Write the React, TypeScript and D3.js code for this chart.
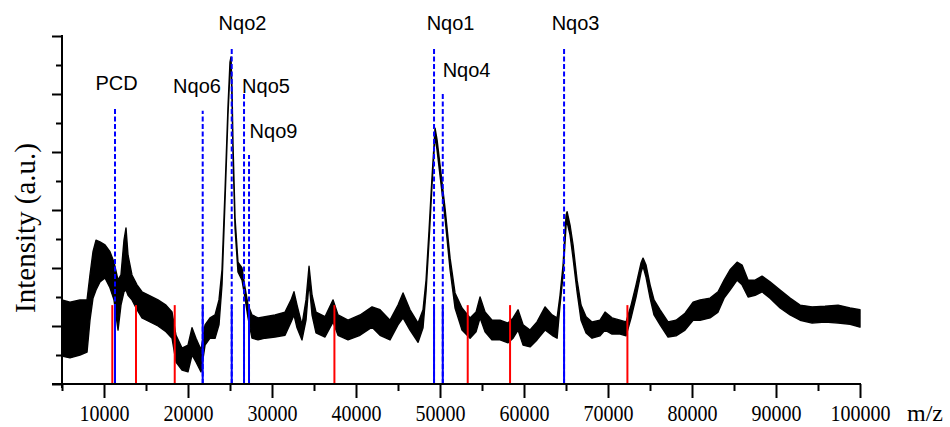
import React, { useEffect, useRef } from 'react'
import * as d3 from 'd3'

// spectrum: m/z with upper / lower edge of the noisy trace
const massAxis = [
  5000, 5950, 7140, 7980, 8330, 8690, 9050, 9520, 10120, 10710,
  11190, 11670, 12020, 12380, 12620, 12860, 13330, 13930, 14520, 15480,
  16430, 17380, 18100, 18570, 19290, 20000, 20480, 20950, 21550, 22030,
  22620, 23220, 23690, 24050, 24410, 24760, 25000, 25120, 25240, 25360,
  25600, 25950, 26430, 26790, 27150, 27620, 28340, 29170, 30360, 31550,
  32270, 32620, 32980, 33570, 34050, 34410, 34770, 35240, 36310, 37270,
  37860, 39050, 40480, 41910, 42860, 44050, 45000, 45600, 46430, 47390,
  47980, 48340, 48700, 49050, 49290, 49410, 49650, 50000, 50600, 51200,
  51790, 52620, 53580, 54290, 54770, 55360, 56200, 57150, 58100, 58700,
  59290, 59890, 60720, 61550, 62510, 63340, 63940, 64290, 64650, 65010,
  65130, 65480, 65840, 66320, 66790, 67390, 68100, 69050, 69650, 70480,
  71440, 72150, 72750, 73340, 73940, 74170, 74530, 75010, 75480, 76200,
  77150, 78100, 79170, 80130, 80960, 82150, 83100, 83820, 84530, 85370,
  85960, 86680, 87510, 88340, 89290, 90490, 91680, 92870, 94300, 95840,
  97390, 98820, 100000,
]

const upperIntensity = [
  1.45, 1.41, 1.45, 1.45, 1.88, 2.28, 2.48, 2.45, 2.4, 2.28,
  2.1, 1.79, 1.88, 2.48, 2.69, 2.22, 1.88, 1.71, 1.59, 1.52,
  1.45, 1.36, 1.24, 0.84, 0.62, 0.67, 0.97, 0.79, 0.59, 1.02,
  1.14, 1.19, 1.45, 1.97, 3.34, 4.78, 5.55, 5.64, 5.07, 4.12,
  2.86, 2.1, 2.0, 1.66, 1.36, 1.19, 1.14, 1.16, 1.19, 1.24,
  1.45, 1.59, 1.36, 1.02, 1.45, 2.03, 1.53, 1.24, 1.16, 1.45,
  1.19, 1.1, 1.19, 1.33, 1.28, 1.1, 1.36, 1.57, 1.28, 1.05,
  1.28, 1.79, 2.66, 3.57, 4.12, 4.41, 4.21, 3.78, 3.03, 2.17,
  1.57, 1.31, 1.14, 1.24, 1.5, 1.24, 1.1, 1.1, 1.05, 1.14,
  1.28, 1.02, 0.93, 1.07, 1.33, 1.19, 1.14, 1.53, 2.05, 2.91,
  2.97, 2.74, 2.4, 1.79, 1.36, 1.16, 1.07, 1.1, 1.24, 1.14,
  1.1, 1.07, 1.36, 1.71, 2.09, 2.17, 2.05, 1.71, 1.45, 1.28,
  1.07, 1.1, 1.22, 1.41, 1.45, 1.48, 1.59, 1.79, 1.97, 2.1,
  2.05, 1.79, 1.79, 1.86, 1.76, 1.62, 1.48, 1.36, 1.33, 1.34,
  1.36, 1.31, 1.28,
]

const lowerIntensity = [
  0.48, 0.45, 0.5, 0.55, 1.1, 1.48, 1.62, 1.76, 1.83, 1.66,
  1.45, 0.93, 1.36, 1.59, 1.62, 1.53, 1.45, 1.28, 1.14, 1.07,
  1.0, 0.9, 0.79, 0.38, 0.24, 0.21, 0.5, 0.38, 0.21, 0.67,
  0.79, 0.79, 1.02, 1.71, 3.17, 4.64, 5.41, 5.52, 4.9, 3.95,
  2.69, 1.93, 1.79, 1.48, 1.14, 0.79, 0.76, 0.79, 0.81, 0.84,
  1.07, 1.19, 0.97, 0.76, 1.1, 1.76, 1.19, 0.88, 0.81, 1.07,
  0.84, 0.76, 0.84, 0.98, 0.84, 0.76, 1.02, 1.14, 0.93, 0.72,
  0.97, 1.59, 2.48, 3.43, 4.0, 4.29, 4.03, 3.6, 2.86, 1.97,
  1.31, 0.93, 0.79, 0.9, 1.14, 0.9, 0.76, 0.76, 0.71, 0.79,
  0.93, 0.67, 0.64, 0.76, 0.93, 0.84, 0.79, 1.36, 1.88, 2.74,
  2.79, 2.57, 2.17, 1.59, 1.1, 0.88, 0.79, 0.83, 0.93, 0.86,
  0.86, 0.83, 1.14, 1.5, 1.93, 2.03, 1.84, 1.48, 1.19, 1.02,
  0.81, 0.83, 0.93, 1.1, 1.1, 1.14, 1.24, 1.48, 1.62, 1.79,
  1.71, 1.5, 1.53, 1.59, 1.48, 1.31, 1.19, 1.1, 1.05, 1.07,
  1.05, 1.03, 0.98,
]

// red sticks (other masses)
const redMasses = [10990, 13810, 18420, 37430, 53300, 58340, 72310]

// assigned subunits
const subunitNames = ['PCD', 'Nqo6', 'Nqo2', 'Nqo5', 'Nqo9', 'Nqo1', 'Nqo4', 'Nqo3']
const subunitMasses = [11310, 21750, 25205, 26670, 27265, 49290, 50330, 64770]
const guideTops = [4.76, 4.71, 5.79, 5.03, 3.95, 5.79, 5.0, 5.79]
const labelMasses = [11489, 21073, 26490, 29288, 30181, 51255, 53160, 66138]
const labelLevels = [5.07, 5.02, 6.1, 5.02, 4.24, 6.1, 5.29, 6.1]
const stickLevel = 1.36

const majorMassTicks = d3.range(10000, 100001, 10000)
const minorMassTicks = d3.range(5000, 100000, 10000)
const majorIntensityTicks = d3.range(0, 7, 1)
const minorIntensityTicks = d3.range(0.5, 6, 1)

const App = () => {
  const ref = useRef<SVGSVGElement>(null)

  useEffect(() => {
    const svg = d3.select(ref.current)
    svg.selectAll('*').remove()

    const x = d3.scaleLinear().domain([5000, 100000]).range([62, 860])
    const y = d3.scaleLinear().domain([0, 6]).range([384, 36])

    // spectrum band
    const band = d3
      .area<number>()
      .x((d, i) => x(massAxis[i]))
      .y0((d, i) => y(lowerIntensity[i]))
      .y1((d, i) => y(upperIntensity[i]))

    svg
      .append('path')
      .datum(massAxis)
      .attr('d', band)
      .attr('fill', '#000')
      .attr('stroke', '#000')
      .attr('stroke-width', 1.4)
      .attr('stroke-linejoin', 'round')

    // red sticks
    svg
      .selectAll('.red')
      .data(redMasses)
      .enter()
      .append('line')
      .attr('x1', d => x(d))
      .attr('x2', d => x(d))
      .attr('y1', y(0))
      .attr('y2', y(stickLevel))
      .attr('stroke', '#ff0000')
      .attr('stroke-width', 2)

    // blue sticks + dashed guides
    svg
      .selectAll('.blue')
      .data(subunitMasses)
      .enter()
      .append('line')
      .attr('x1', d => x(d))
      .attr('x2', d => x(d))
      .attr('y1', y(0))
      .attr('y2', y(stickLevel))
      .attr('stroke', '#0000ff')
      .attr('stroke-width', 2)

    svg
      .selectAll('.guide')
      .data(subunitMasses)
      .enter()
      .append('line')
      .attr('x1', d => x(d))
      .attr('x2', d => x(d))
      .attr('y1', y(0))
      .attr('y2', (d, i) => y(guideTops[i]))
      .attr('stroke', '#0000ff')
      .attr('stroke-width', 2)
      .attr('stroke-dasharray', '5,2.5')

    svg
      .selectAll('.label')
      .data(subunitNames)
      .enter()
      .append('text')
      .attr('x', (d, i) => x(labelMasses[i]))
      .attr('y', (d, i) => y(labelLevels[i]))
      .attr('text-anchor', 'middle')
      .style('font-family', '"Liberation Sans", Arial, sans-serif')
      .style('font-size', '20px')
      .text(d => d)

    // x axis
    const xMajor = svg
      .append('g')
      .attr('transform', `translate(0, ${y(0)})`)
      .call(d3.axisBottom(x).tickValues(majorMassTicks).tickSize(14).tickSizeOuter(0).tickFormat(d3.format('d')))
    xMajor.select('.domain').remove()
    xMajor.selectAll('line').attr('stroke-width', 2)
    xMajor
      .selectAll('text')
      .attr('y', 37)
      .attr('dy', 0)
      .attr('transform', 'scale(0.87,1)')
      .style('font-family', '"Liberation Serif", "Times New Roman", serif')
      .style('font-size', '23px')
      .attr('fill', '#000')

    const xMinor = svg
      .append('g')
      .attr('transform', `translate(0, ${y(0)})`)
      .call(d3.axisBottom(x).tickValues(minorMassTicks).tickSize(7).tickFormat(() => ''))
    xMinor.select('.domain').remove()
    xMinor.selectAll('line').attr('stroke-width', 2)

    svg
      .append('line')
      .attr('x1', 52)
      .attr('x2', x(100000) + 1)
      .attr('y1', y(0))
      .attr('y2', y(0))
      .attr('stroke', '#000')
      .attr('stroke-width', 2)

    // y axis
    const yMajor = svg
      .append('g')
      .attr('transform', `translate(${x(5000)}, 0)`)
      .call(d3.axisLeft(y).tickValues(majorIntensityTicks).tickSize(10).tickFormat(() => ''))
    yMajor.select('.domain').remove()
    yMajor.selectAll('line').attr('stroke-width', 2)

    const yMinor = svg
      .append('g')
      .attr('transform', `translate(${x(5000)}, 0)`)
      .call(d3.axisLeft(y).tickValues(minorIntensityTicks).tickSize(6).tickFormat(() => ''))
    yMinor.select('.domain').remove()
    yMinor.selectAll('line').attr('stroke-width', 2)

    svg
      .append('line')
      .attr('x1', x(5000))
      .attr('x2', x(5000))
      .attr('y1', y(6) - 1)
      .attr('y2', y(0) + 4)
      .attr('stroke', '#000')
      .attr('stroke-width', 2)

    // axis titles
    svg
      .append('text')
      .attr('x', 907)
      .attr('y', 421)
      .style('font-family', '"Liberation Serif", "Times New Roman", serif')
      .style('font-size', '24px')
      .text('m/z')

    svg
      .append('text')
      .attr('transform', `translate(35, ${(y(0) + y(6)) / 2 + 18}) rotate(-90)`)
      .attr('text-anchor', 'middle')
      .style('font-family', '"Liberation Serif", "Times New Roman", serif')
      .style('font-size', '29px')
      .text('Intensity (a.u.)')
  }, [])

  return (
    <svg
      ref={ref}
      width={950}
      height={427}
      style={{ position: 'absolute', left: 0, top: 0, background: '#fff' }}
    ></svg>
  )
}

export default App
